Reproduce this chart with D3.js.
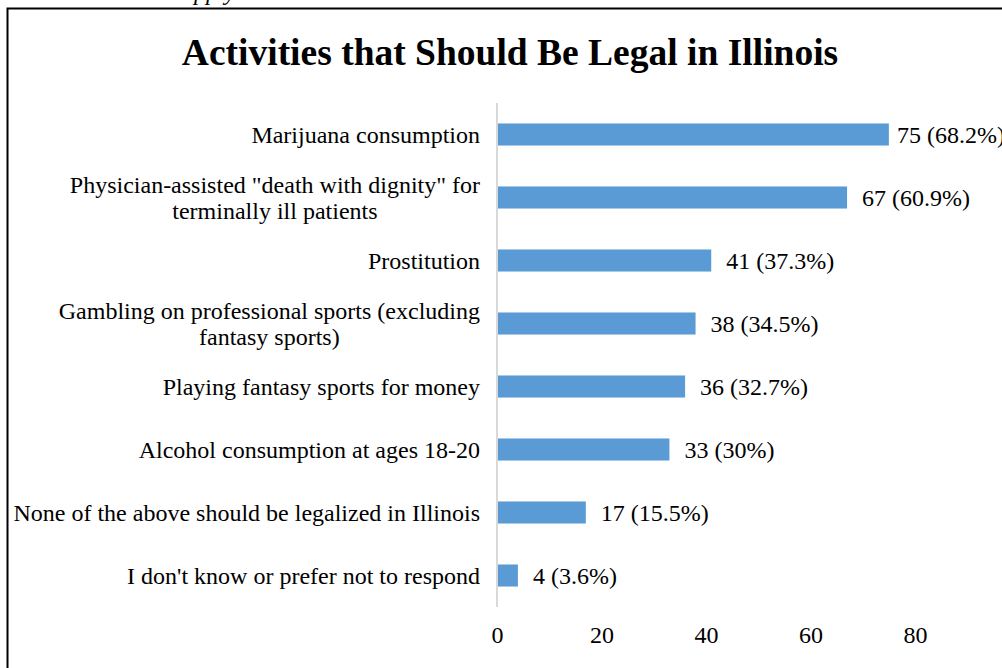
<!DOCTYPE html>
<html>
<head>
<meta charset="utf-8">
<script src="https://cdn.jsdelivr.net/npm/d3@7"></script>
<style>
  html, body { margin: 0; padding: 0; background: #fff; }
  svg { display: block; }
</style>
</head>
<body>
<svg id="chart" width="1002" height="668"></svg>
<script>
const categories = [
  ["Marijuana consumption"],
  ["Physician-assisted \"death with dignity\" for", "terminally ill patients"],
  ["Prostitution"],
  ["Gambling on professional sports (excluding", "fantasy sports)"],
  ["Playing fantasy sports for money"],
  ["Alcohol consumption at ages 18-20"],
  ["None of the above should be legalized in Illinois"],
  ["I don't know or prefer not to respond"]
];
const counts = [75, 67, 41, 38, 36, 33, 17, 4];
const percents = ["68.2%", "60.9%", "37.3%", "34.5%", "32.7%", "30%", "15.5%", "3.6%"];
const xTicks = [0, 20, 40, 60, 80];

const svg = d3.select("#chart");
const font = "'Liberation Serif', 'Times New Roman', serif";

// caption line above the frame (mostly outside the view)
svg.append("text")
  .attr("x", 240).attr("y", 0)
  .attr("text-anchor", "end")
  .attr("font-family", font).attr("font-style", "italic")
  .attr("font-size", 24).attr("fill", "#000")
  .text("Please select all that apply.");

// chart frame
svg.append("rect")
  .attr("x", 7.5).attr("y", 8.5)
  .attr("width", 1010).attr("height", 680)
  .attr("fill", "#fff").attr("stroke", "#000").attr("stroke-width", 2);

svg.append("text")
  .attr("x", 510).attr("y", 65)
  .attr("text-anchor", "middle")
  .attr("font-family", font).attr("font-weight", "bold")
  .attr("font-size", 37.5).attr("fill", "#000")
  .text("Activities that Should Be Legal in Illinois");

const x = d3.scaleLinear().domain([0, 80]).range([497, 915]);
const y = d3.scaleBand().domain(d3.range(categories.length)).range([103, 607]).paddingInner(0.65).paddingOuter(0.325);

// bars
svg.append("g").selectAll("rect")
  .data(counts)
  .join("rect")
  .attr("x", x(0))
  .attr("y", (d, i) => y(i))
  .attr("width", d => x(d) - x(0))
  .attr("height", y.bandwidth())
  .attr("fill", "#5b9bd5");

// vertical category axis line
svg.append("line")
  .attr("x1", x(0)).attr("x2", x(0))
  .attr("y1", 103).attr("y2", 607)
  .attr("stroke", "#d9d9d9").attr("stroke-width", 2);

// value labels, pulled back toward the bar when they would run past the plot edge
const labelLimit = 1005;
svg.append("g").selectAll("text")
  .data(counts)
  .join("text")
  .attr("y", (d, i) => y(i) + y.bandwidth() / 2)
  .attr("dy", "0.35em")
  .attr("font-family", font).attr("font-size", 24).attr("fill", "#000")
  .text((d, i) => `${d} (${percents[i]})`)
  .attr("x", function (d) {
    const w = this.getComputedTextLength();
    return Math.min(x(d) + 15, labelLimit - w);
  });

// category labels: single lines right-aligned to the axis, wrapped labels centred as a block
const labelRight = 480;
const catG = svg.append("g");
categories.forEach((lines, i) => {
  const cy = y(i) + y.bandwidth() / 2;
  const lh = 26;
  const t = catG.append("text")
    .attr("font-family", font).attr("font-size", 24).attr("fill", "#000");
  const spans = lines.map((ln, j) => t.append("tspan")
    .attr("y", cy + (j - (lines.length - 1) / 2) * lh)
    .attr("dy", "0.35em")
    .text(ln));
  if (lines.length === 1) {
    t.attr("text-anchor", "end");
    spans[0].attr("x", labelRight);
  } else {
    const widest = d3.max(spans, s => s.node().getComputedTextLength());
    t.attr("text-anchor", "middle");
    spans.forEach(s => s.attr("x", labelRight - widest / 2));
  }
});

// value axis tick labels
const xAxis = d3.axisBottom(x).tickValues(xTicks).tickSize(0).tickPadding(0);
const ax = svg.append("g").attr("transform", "translate(0,626)").call(xAxis);
ax.select(".domain").remove();
ax.selectAll("text")
  .attr("font-family", font).attr("font-size", 24).attr("fill", "#000");
</script>
</body>
</html>
